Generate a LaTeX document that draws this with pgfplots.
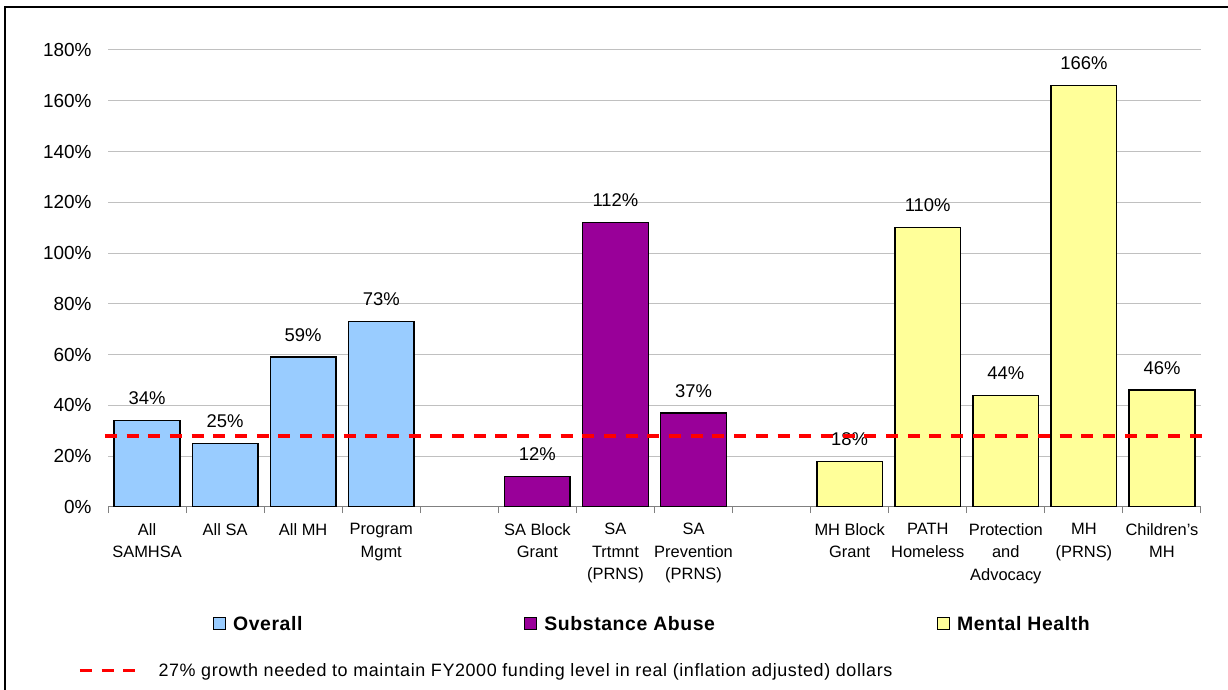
\documentclass[border=0pt]{standalone}
\usepackage{fontspec}
\setmainfont{Liberation Sans}
\usepackage{pgfplots}
\pgfplotsset{compat=1.18}
\definecolor{cblue}{HTML}{99CCFF}
\definecolor{cpurple}{HTML}{990099}
\definecolor{cyellow}{HTML}{FFFF99}
\definecolor{cgrid}{HTML}{C0C0C0}
\begin{document}
\begin{tikzpicture}
\useasboundingbox (0,0) rectangle (1228bp,690bp);
\fill[white] (0,0) rectangle (1228bp,690bp);
\draw[black, line width=2.5bp] (5bp,0bp) -- (5bp,683bp) -- (1228bp,683bp);
\begin{axis}[
  at={(108bp,183bp)}, anchor=south west,
  scale only axis, width=1093bp, height=457bp,
  xmin=-0.5, xmax=13.5, ymin=0, ymax=180,
  axis lines=left,
  axis line style={-},
  y axis line style={draw=none},
  x axis line style={draw=gray, line width=1bp},
  ytick={0,20,...,180},
  yticklabel={\pgfmathprintnumber{\tick}\%},
  /pgf/number format/assume math mode=true,
  yticklabel style={font=\fontsize{19}{22}\selectfont, inner sep=0pt, xshift=-12bp},
  ymajorgrids, grid style={draw=cgrid, line width=1bp},
  major y tick style={draw=none},
  xtick={0,1,2,3,5,6,7,9,10,11,12,13},
  xticklabels={All\\SAMHSA, All SA, All MH, Program\\Mgmt, SA Block\\Grant, SA\\Trtmnt\\(PRNS), SA\\Prevention\\(PRNS), MH Block\\Grant, PATH\\Homeless, Protection\\and\\Advocacy, MH\\(PRNS), Children’s\\MH},
  xticklabel style={align=center, font=\fontsize{16.5}{22.5}\selectfont, inner sep=0pt, yshift=-12bp},
  major x tick style={draw=none},
  minor xtick={-0.5,0.5,...,13.5},
  minor x tick style={draw=gray, line width=1bp},
  minor tick length=6bp,
  tick align=outside,
  ybar, bar width=0.84, bar shift=0pt,
  nodes near coords={\pgfmathprintnumber{\pgfplotspointmeta}\%},
  every node near coord/.append style={font=\fontsize{18.5}{22}\selectfont, anchor=base, inner sep=0pt, yshift=16bp},
  legend columns=3,
  legend style={at={(0.096,-0.256)}, anchor=west, draw=none, fill=none, inner sep=0pt,
    font=\fontsize{19.5}{22}\selectfont\bfseries\addfontfeature{LetterSpace=3},
    /tikz/every odd column/.append style={column sep=5bp},
    /tikz/every even column/.append style={column sep=220bp}},
  legend image code/.code={\draw[#1, line width=1bp] (0bp,-6bp) rectangle (12bp,6bp);},
  legend cell align=left,
]
\addplot[fill=cblue, draw=black, line width=1.5bp] coordinates {(0,34) (1,25) (2,59) (3,73)};
\addlegendentry{Overall}
\addplot[fill=cpurple, draw=black, line width=1.5bp] coordinates {(5,12) (6,112) (7,37)};
\addlegendentry{Substance Abuse}
\addplot[fill=cyellow, draw=black, line width=1.5bp] coordinates {(9,18) (10,110) (11,44) (12,166) (13,46)};
\addlegendentry{Mental Health}
\end{axis}
\begin{axis}[
  at={(108bp,183bp)}, anchor=south west,
  scale only axis, width=1093bp, height=457bp,
  xmin=-0.5, xmax=13.5, ymin=0, ymax=180,
  hide axis, clip=false,
  legend style={at={(-0.0274,-0.358)}, anchor=west, draw=none, fill=none, inner sep=0pt,
    font=\fontsize{18}{20}\selectfont\addfontfeature{LetterSpace=3.4},
    /tikz/every odd column/.append style={column sep=18bp}},
  legend image code/.code={\draw[#1] (0bp,0bp) -- (57bp,0bp);},
]
\addplot[red, line width=3.3bp, dash pattern=on 12bp off 9.7bp] coordinates {(-0.54,28) (13.6,28)};
\addlegendentry{27\% growth needed to maintain FY2000 funding level in real (inflation adjusted) dollars}
\end{axis}
\end{tikzpicture}
\end{document}
